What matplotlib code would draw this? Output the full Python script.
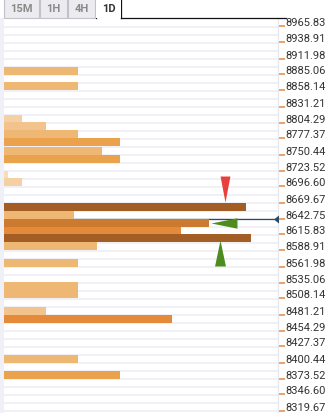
import matplotlib
matplotlib.use("Agg")
import matplotlib.pyplot as plt
from matplotlib.patches import Rectangle

plt.rcParams['font.family'] = ['Roboto', 'DejaVu Sans']

# Confluence levels (row centre prices) and their strength
levels = [8891.79, 8864.87, 8811.02, 8797.56, 8784.10, 8770.64, 8757.17, 8743.71,
          8716.79, 8703.33, 8662.94, 8649.48, 8636.02, 8622.56, 8609.10, 8595.64,
          8568.71, 8528.33, 8514.87, 8487.94, 8474.48, 8407.17, 8380.25]
strength = [74, 74, 18, 42, 74, 116, 98, 116,
            4, 18, 242, 70, 205, 177, 247, 93,
            74, 74, 74, 42, 168, 74, 116]

tick_prices = [8965.83, 8938.91, 8911.98, 8885.06, 8858.14, 8831.21, 8804.29, 8777.37,
               8750.44, 8723.52, 8696.60, 8669.67, 8642.75, 8615.83, 8588.91, 8561.98,
               8535.06, 8508.14, 8481.21, 8454.29, 8427.37, 8400.44, 8373.52, 8346.60,
               8319.67]
current_price = 8642.75

signal_x = [221, 220, 215.5]
signal_price = [8692.4, 8635.7, 8584.7]

tabs = ["15M", "1H", "4H", "1D"]

W, H = 326, 413
step = 13.4615
y_top = 8979.29
y_bottom = 8315.47


def bar_color(v):
    if v <= 10:
        return '#f8dcbc'
    if v <= 30:
        return '#f5d0a2'
    if v <= 50:
        return '#f2c38c'
    if v <= 100:
        return '#efb774'
    if v <= 140:
        return '#eba24d'
    if v <= 190:
        return '#e5893b'
    if v <= 230:
        return '#cc7a30'
    return '#a35e26'


def fx(x):
    return x / W


def fy(y):
    return 1 - y / H


fig = plt.figure(figsize=(W / 100, H / 100), dpi=100)
fig.patch.set_facecolor('white')

# left lavender strip
fig.patches.append(Rectangle((0, 0), fx(4), fy(18), transform=fig.transFigure,
                             facecolor='#f0f0f8', edgecolor='none', zorder=0))

ax = fig.add_axes([fx(4), 0, 273.5 / W, fy(18.5)])
ax.set_xlim(0, 273.5)
ax.set_ylim(y_bottom, y_top)

# row separators
b = y_top
while b > y_bottom:
    ax.axhline(b, color='#efeff6', lw=1.3, zorder=1)
    b -= step

ax.axhline(current_price, color='#2b4a6b', lw=0.9, zorder=1.5)

ax.barh(levels, strength, height=step, left=0,
        color=[bar_color(v) for v in strength], linewidth=0, zorder=2)

# signal markers
down = [(-0.19, 0.5), (0.19, 0.5), (0, -0.5)]
left = [(-0.5, 0), (0.5, 0.2), (0.5, -0.2)]
up = [(0, 0.5), (-0.21, -0.5), (0.21, -0.5)]
ax.plot(signal_x[0], signal_price[0], marker=down, ms=18.7, color='#e8403a',
        mew=0, ls='none', zorder=3)
ax.plot(signal_x[1], signal_price[1], marker=left, ms=18.7, color='#4e8c1e',
        mew=0, ls='none', zorder=3)
ax.plot(signal_x[2], signal_price[2], marker=up, ms=18.7, color='#4e8c1e',
        mew=0, ls='none', zorder=3)
ax.plot(271.5, current_price, marker=[(-0.31, 0), (0.31, 0.5), (0.31, -0.5)],
        ms=5.8, color='#2b4a6b', mew=0, ls='none', zorder=3, clip_on=False)

for s in ['top', 'left', 'bottom']:
    ax.spines[s].set_visible(False)
ax.spines['right'].set_color('#e6e6ee')
ax.spines['right'].set_linewidth(0.8)
ax.set_xticks([])
ax.yaxis.tick_right()
ax.set_yticks(tick_prices)
ax.set_yticklabels([])
ax.tick_params(axis='y', direction='out', length=5, width=1.1, color='#e8883a', pad=0)

for p in tick_prices:
    ax.text(1.0275, p, f"{p:.2f}", transform=ax.get_yaxis_transform(),
            ha='left', va='baseline', fontsize=8, color='#333333', clip_on=False)

# timeframe tabs (tops run off the image edge)
tab_x = [(4, 39), (40, 67), (68, 95), (96, 121)]
for name, (x0, x1) in zip(tabs, tab_x):
    active = name == "1D"
    if active:
        fig.patches.append(Rectangle((fx(x0), fy(17.5)), fx(x1 - x0), 20 / H,
                                     transform=fig.transFigure, facecolor='white',
                                     edgecolor='none', zorder=2))
        for xe in (x0, x1):
            fig.add_artist(plt.Line2D([fx(xe), fx(xe)], [fy(17.5), 1.01],
                                      color='#111111', lw=0.9,
                                      transform=fig.transFigure))
    else:
        fig.patches.append(Rectangle((fx(x0), fy(17.5)), fx(x1 - x0), 20 / H,
                                     transform=fig.transFigure, facecolor='#ececf0',
                                     edgecolor='#c2c2ca', lw=0.8, zorder=2))
    fig.text(fx((x0 + x1) / 2), fy(9), name, ha='center', va='center',
             fontsize=8, fontweight='bold',
             color='#333333' if active else '#8a8a8a', zorder=3)
fig.add_artist(plt.Line2D([fx(121), fx(286)], [fy(17.5), fy(17.5)],
                          color='#111111', lw=0.9, transform=fig.transFigure))

fig.savefig("out.png", dpi=100)
